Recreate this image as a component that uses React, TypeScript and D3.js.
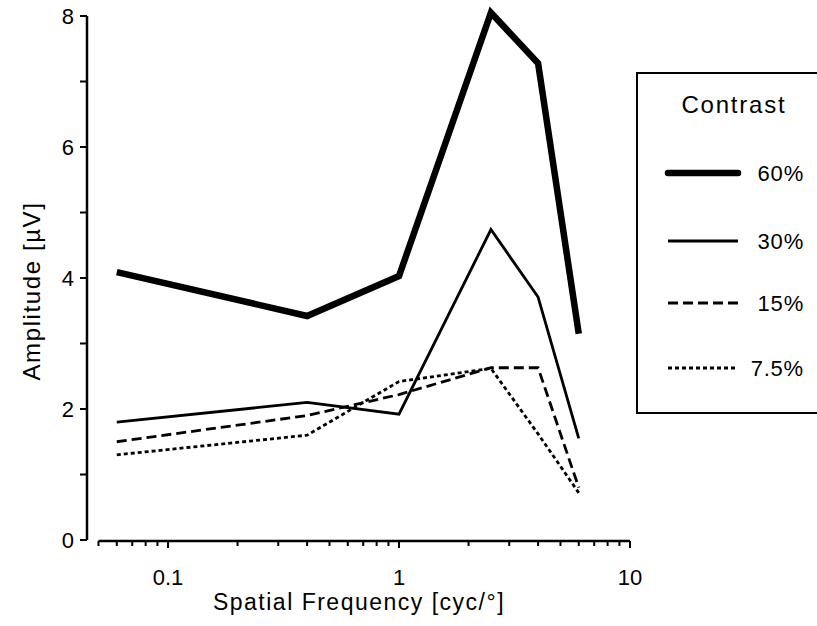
import React from "react";
import * as d3 from "d3";

const freqs = [0.06, 0.4, 1, 2.5, 4, 6];
const amp60 = [4.09, 3.42, 4.03, 8.05, 7.28, 3.15];
const amp30 = [1.8, 2.1, 1.92, 4.74, 3.71, 1.55];
const amp15 = [1.5, 1.9, 2.22, 2.63, 2.63, 0.8];
const amp75 = [1.3, 1.6, 2.42, 2.62, 1.62, 0.72];
const seriesNames = ["60%", "30%", "15%", "7.5%"];
const xTickLabels = [0.1, 1, 10];
const yTickLabels = [0, 2, 4, 6, 8];

const W = 817;
const H = 626;
const FONT = "'Liberation Sans', Arial, Helvetica, sans-serif";

export default function App() {
  const x = d3.scaleLog().domain([0.05, 10]).range([98.5, 630]);
  const y = d3.scaleLinear().domain([0, 8]).range([540, 16]);
  const line = d3
    .line<number>()
    .x((_, i) => x(freqs[i]))
    .y((d) => y(d));

  const styles = [
    { w: 6.5, dash: "" },
    { w: 2.8, dash: "" },
    { w: 2.8, dash: "10,5" },
    { w: 2.8, dash: "4,3" },
  ];
  const data = [amp60, amp30, amp15, amp75];

  const minorTicks: number[] = [];
  for (const dec of [0.01, 0.1, 1]) {
    for (let k = 1; k <= 9; k++) {
      const v = dec * k;
      if (v >= 0.05 && v <= 10) minorTicks.push(v);
    }
  }
  minorTicks.push(10);
  const yMinor = d3.range(0, 9);

  const legendY = [173, 241, 303, 368];

  return (
    <svg
      width={W}
      height={H}
      style={{ position: "absolute", left: 0, top: 0, background: "#fff" }}
      fontFamily={FONT}
    >
      <rect x={0} y={0} width={W} height={H} fill="#fff" />
      {/* Y axis */}
      <line x1={87} x2={87} y1={y(8)} y2={y(0)} stroke="#000" strokeWidth={2.5} />
      {yMinor.map((v) => (
        <line key={v} x1={80} x2={87} y1={y(v)} y2={y(v)} stroke="#000" strokeWidth={2} />
      ))}
      {yTickLabels.map((v) => (
        <text key={v} x={74} y={y(v) + 8} textAnchor="end" fontSize={22}>
          {v}
        </text>
      ))}
      <text
        transform={`translate(40,291) rotate(-90)`}
        textAnchor="middle"
        fontSize={24}
        letterSpacing={1.6}
      >
        Amplitude [µV]
      </text>

      {/* X axis */}
      <line x1={x(0.05)} x2={x(10)} y1={541} y2={541} stroke="#000" strokeWidth={2.5} />
      {minorTicks.map((v, i) => {
        const major = xTickLabels.includes(+v.toFixed(3));
        return (
          <line
            key={i}
            x1={x(v)}
            x2={x(v)}
            y1={541}
            y2={major ? 548 : 546}
            stroke="#000"
            strokeWidth={2}
          />
        );
      })}
      {xTickLabels.map((v) => (
        <text key={v} x={x(v)} y={585} textAnchor="middle" fontSize={22}>
          {v}
        </text>
      ))}
      <text x={359} y={610} textAnchor="middle" fontSize={23} letterSpacing={1.5}>
        Spatial Frequency [cyc/°]
      </text>

      {/* Series */}
      {data.map((d, i) => (
        <path
          key={i}
          d={line(d) || ""}
          fill="none"
          stroke="#000"
          strokeWidth={styles[i].w}
          strokeDasharray={styles[i].dash}
          strokeLinejoin="miter"
          strokeLinecap="butt"
        />
      ))}

      {/* Legend */}
      <rect x={637} y={73} width={200} height={340} fill="#fff" stroke="#000" strokeWidth={2} />
      <text x={734} y={113} textAnchor="middle" fontSize={24} letterSpacing={1.8}>
        Contrast
      </text>
      {seriesNames.map((n, i) => (
        <g key={n}>
          <line
            x1={668}
            x2={738}
            y1={legendY[i]}
            y2={legendY[i]}
            stroke="#000"
            strokeWidth={styles[i].w}
            strokeDasharray={styles[i].dash}
            strokeLinecap={i === 0 ? "round" : "butt"}
          />
          <text x={804} y={legendY[i] + 8} textAnchor="end" fontSize={22} letterSpacing={0.8}>
            {n}
          </text>
        </g>
      ))}
    </svg>
  );
}
